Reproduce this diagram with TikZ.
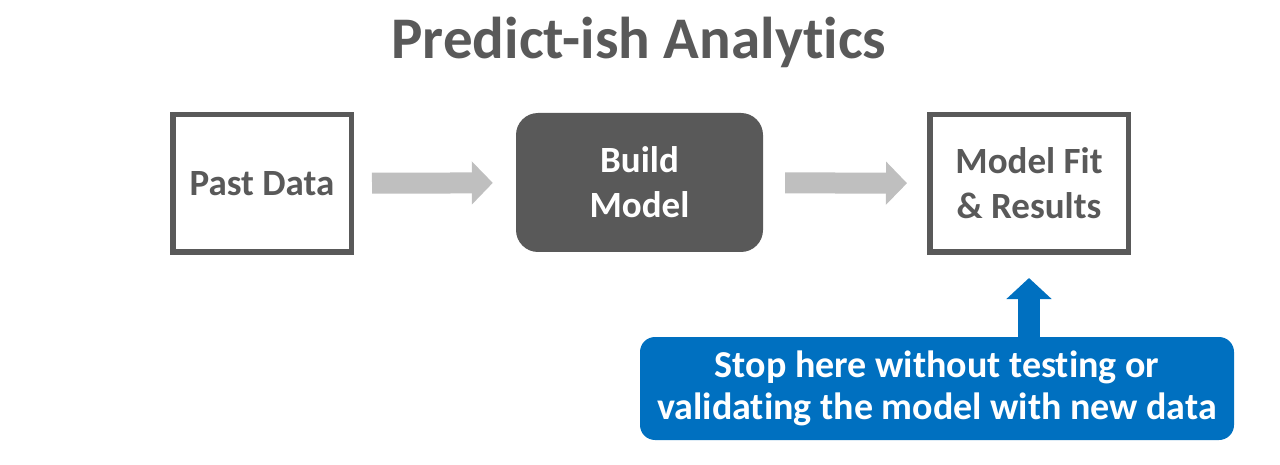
\documentclass[tikz,border=0pt]{standalone}
\usepackage{fontspec}
\setmainfont{Carlito}[Ligatures=NoCommon]
\usetikzlibrary{arrows.meta,positioning}
\definecolor{slategray}{RGB}{89,89,89}
\definecolor{flowgray}{RGB}{191,191,191}
\definecolor{stopblue}{RGB}{0,112,192}

\begin{document}
\begin{tikzpicture}[
  x=1pt, y=-1pt,
  font=\bfseries,
  boxtext/.style={font=\fontsize{37}{45}\selectfont\bfseries, text=slategray},
  stage/.style={rectangle, draw=slategray, line width=5.5pt, align=center,
    boxtext, inner sep=0pt},
  modelstage/.style={rectangle, rounded corners=22pt, fill=slategray, align=center,
    font=\fontsize{37}{45}\selectfont\bfseries, text=white, inner sep=0pt},
  callout/.style={rectangle, rounded corners=15pt, fill=stopblue, align=center,
    font=\fontsize{38}{42}\selectfont\bfseries, text=white, inner sep=0pt},
  flowarrow/.style={draw=flowgray, line width=21pt,
    -{Triangle[length=21pt 0 0, width=42pt 0 0]}},
  stoparrow/.style={draw=stopblue, line width=22pt,
    -{Triangle[length=21pt 0 0, width=44pt 0 0]}}
]
  \useasboundingbox (0,0) rectangle (1280,465);

  % Titulo.
  \node[font=\fontsize{59}{61}\selectfont\bfseries, text=slategray] (title)
    at (639,42) {Predict-ish Analytics};

  % Etapas.
  \node[stage, minimum width=178.5pt, minimum height=137.5pt] (past)
    at (262,183.5) {Past Data};
  \node[modelstage, minimum width=247pt, minimum height=139pt] (build)
    at (639.5,182.5) {Build\\Model};
  \node[stage, minimum width=198.5pt, minimum height=137.5pt] (fit)
    at (1029,183.5) {Model Fit\\\& Results};
  \node[callout, minimum width=594pt, minimum height=103pt] (stop)
    at (937,388.5) {Stop here without testing or\\validating the model with new data};

  % Fluxo.
  \draw[flowarrow, shorten <=18pt, shorten >=23pt] (past) -- (build);
  \draw[flowarrow, shorten <=22pt, shorten >=20pt] (build) -- (fit);
  \draw[stoparrow, shorten >=23pt] (stop.north -| fit.south) -- (fit.south);
\end{tikzpicture}
\end{document}
